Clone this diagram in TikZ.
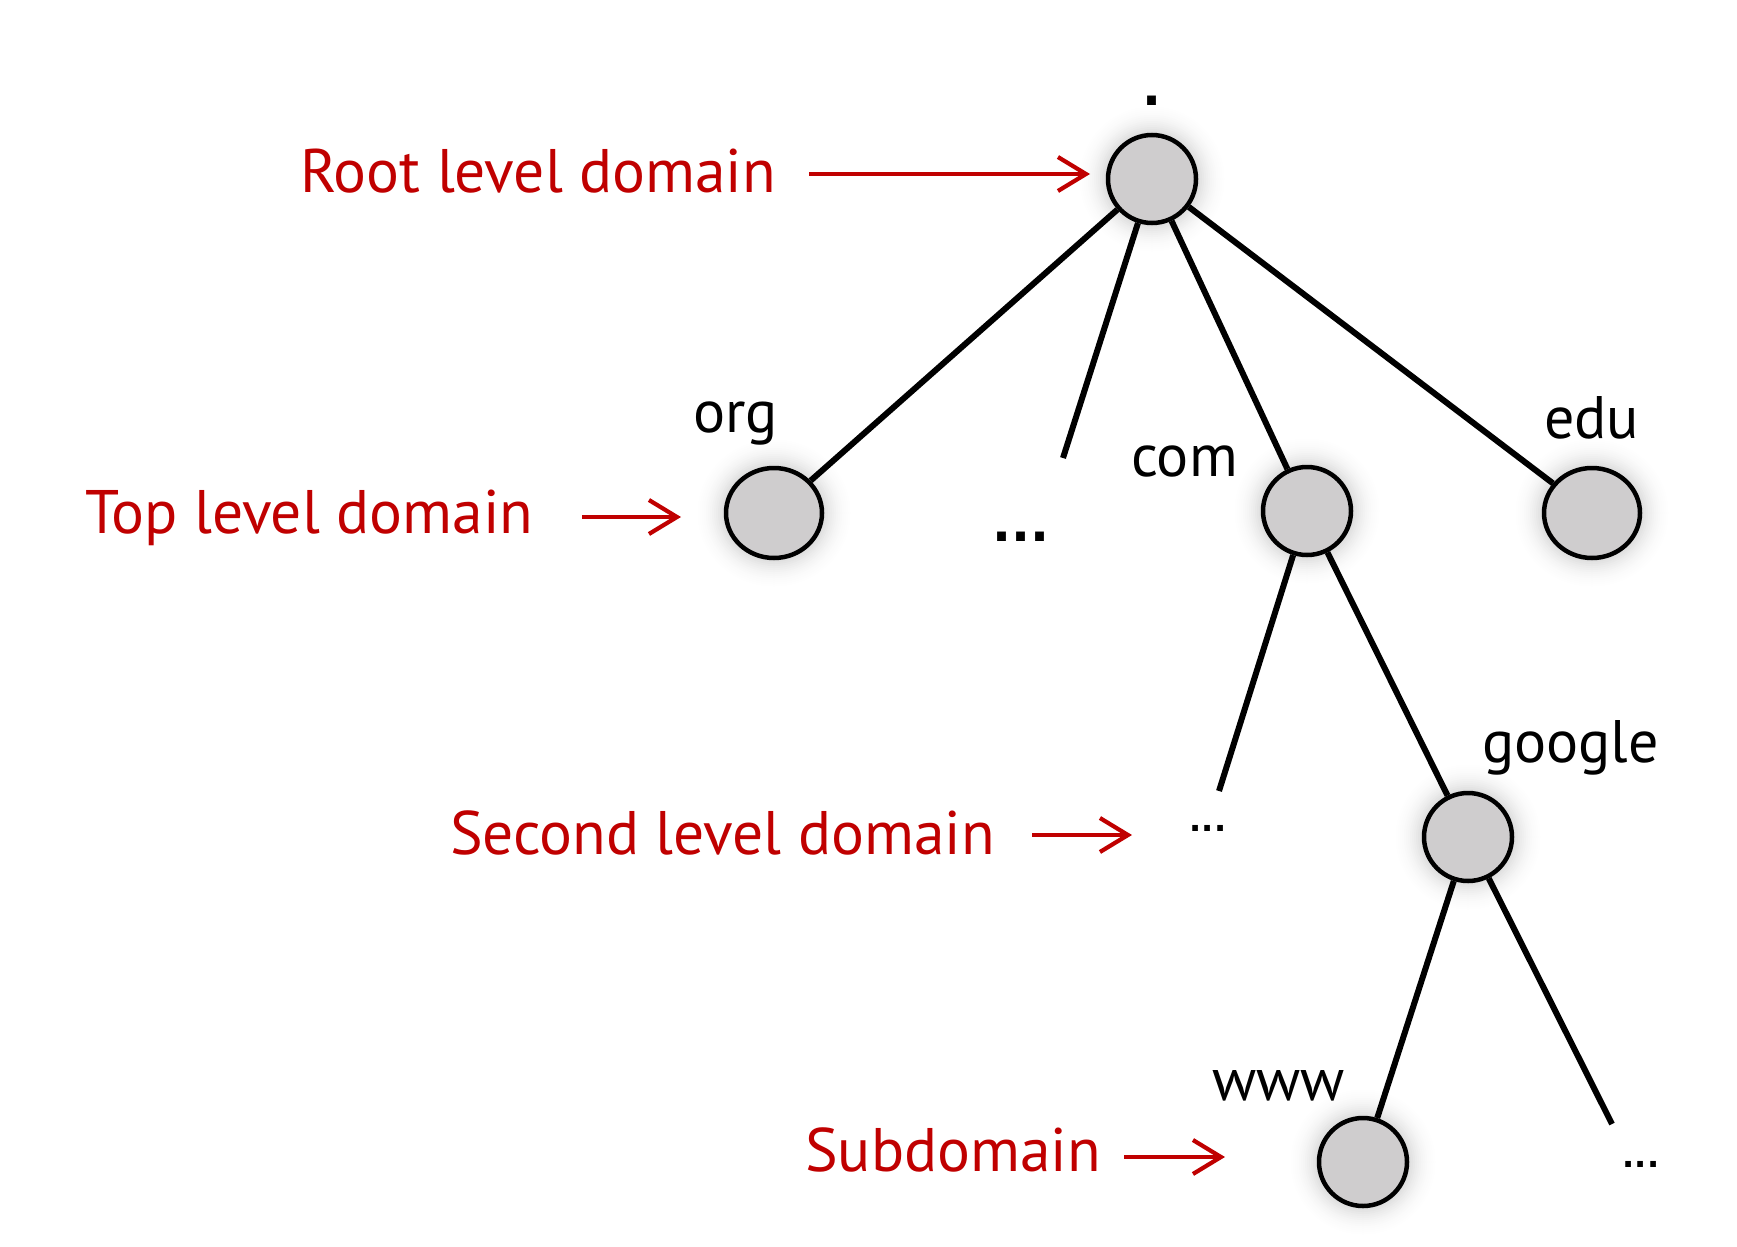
\documentclass[tikz,border=0pt]{standalone}
\usepackage{fontspec}
\setmainfont{PT Sans}
\newfontfamily\dotfont{DejaVu Sans}
\usetikzlibrary{arrows.meta,shapes.geometric,backgrounds}
\definecolor{dred}{HTML}{C00000}
\definecolor{nodegray}{HTML}{CFCDCE}
% soft glow: concentric fills, lightest and largest first
\newcommand{\myglow}[3]{%
  \foreach \i in {0,...,15}{%
    \pgfmathsetmacro{\cc}{14*(\i/15)^2}%
    \fill[black!\cc] (#1.center) ellipse [x radius=#2-2*\i, y radius=#3-2*\i];
  }}
\begin{document}
\begin{tikzpicture}[x=1pt,y=-1pt,
  dnode/.style={circle,draw=black,line width=4.5pt,fill=nodegray,minimum size=88pt,inner sep=0pt},
  enode/.style={ellipse,draw=black,line width=4.5pt,fill=nodegray,minimum width=96pt,minimum height=90pt,inner sep=0pt},
  lab/.style={anchor=base west,inner sep=0pt,font=\fontsize{60}{62}\selectfont},
  rlab/.style={anchor=base west,inner sep=0pt,text=dred,font=\fontsize{61.5}{64}\selectfont},
  edge/.style={draw=black,line width=6pt},
  redarrow/.style={draw=dred,line width=4.2pt,-{Straight Barb[length=28pt,width=34pt]}},
  bigdots/.style={inner sep=0pt,font=\dotfont\bfseries\fontsize{50}{52}\selectfont},
  smalldots/.style={inner sep=0pt,font=\dotfont\bfseries\fontsize{32}{34}\selectfont}
]
\useasboundingbox (0,0) rectangle (1737,1247);

% tree nodes
\node[dnode] (root) at (1152,179) {};
\node[enode] (org) at (774,513) {};
\node[dnode] (com) at (1307,511) {};
\node[enode] (edu) at (1592,513) {};
\node[dnode] (google) at (1468,837) {};
\node[dnode] (www) at (1363,1162) {};

% background and glows
\begin{scope}[on background layer]
\fill[white] (0,0) rectangle (1737,1247);
\myglow{root}{76}{76}
\myglow{com}{76}{76}
\myglow{google}{76}{76}
\myglow{www}{76}{76}
\myglow{org}{80}{77}
\myglow{edu}{80}{77}
\end{scope}

% dangling ends
\coordinate (e1) at (1063,458);
\coordinate (e2) at (1219,791);
\coordinate (e3) at (1612,1124);

% edges
\draw[edge] (root) -- (org);
\draw[edge] (root) -- (e1);
\draw[edge] (root) -- (com);
\draw[edge] (root) -- (edu);
\draw[edge] (com) -- (e2);
\draw[edge] (com) -- (google);
\draw[edge] (google) -- (www);
\draw[edge] (google) -- (e3);

% black labels
\node[inner sep=0pt,font=\dotfont\bfseries\fontsize{50}{52}\selectfont] (dot) at (1152,101) {.};
\node[lab] (lorg) at (693,432) {org};
\node[lab] (lcom) at (1131,476) {com};
\node[lab] (ledu) at (1544,438) {edu};
\node[lab] (lgoogle) at (1482,762) {google};
\node[lab] (lwww) at (1212,1100) {www};
\node[bigdots] (d1) at (1021,537) {...};
\node[smalldots] (d2) at (1208,828) {...};
\node[smalldots] (d3) at (1641,1164) {...};

% red labels
\node[rlab] (rroot) at (300,192) {Root level domain};
\node[rlab] (rtop) at (85,533) {Top level domain};
\node[rlab] (rsecond) at (450,854) {Second level domain};
\node[rlab] (rsub) at (805,1171) {Subdomain};

\coordinate (a1s) at (809,174);
\coordinate (a1e) at (1090,174);
\coordinate (a2s) at (582,517);
\coordinate (a2e) at (681,517);
\coordinate (a3s) at (1032,835);
\coordinate (a3e) at (1132,835);
\coordinate (a4s) at (1124,1157);
\coordinate (a4e) at (1225,1157);
\draw[redarrow] (a1s) -- (a1e);
\draw[redarrow] (a2s) -- (a2e);
\draw[redarrow] (a3s) -- (a3e);
\draw[redarrow] (a4s) -- (a4e);
\end{tikzpicture}
\end{document}
